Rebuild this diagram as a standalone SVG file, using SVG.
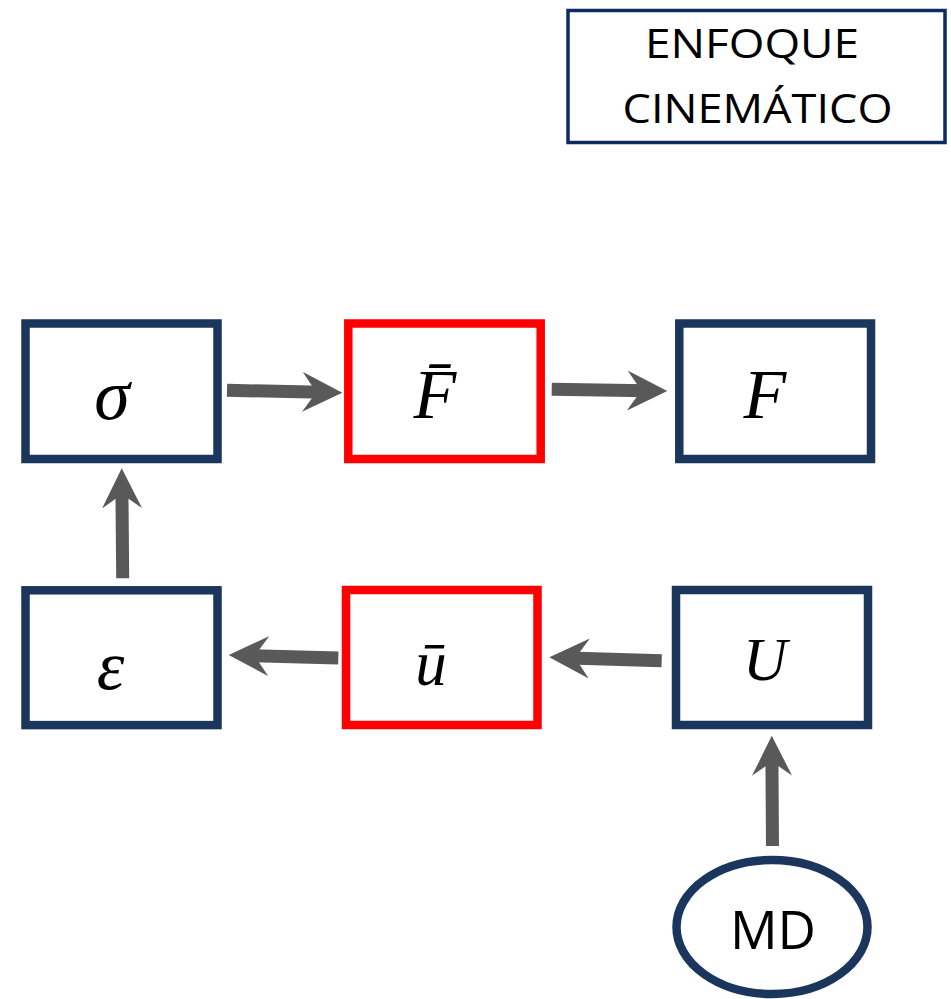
<svg xmlns="http://www.w3.org/2000/svg" width="951" height="999" viewBox="0 0 951 999">
  <style>
    .box { fill: #ffffff; stroke: #1b365d; stroke-width: 8.5; }
    .red { fill: #ffffff; stroke: #ff0000; stroke-width: 8.5; }
    .title { fill: #ffffff; stroke: #0d2a63; stroke-width: 3.5; }
    .sans { font-family: "Open Sans", "Liberation Sans", sans-serif; fill: #000000; text-anchor: middle; }
    .math { font-family: "Liberation Serif", "DejaVu Serif", serif; font-style: italic; fill: #000000; text-anchor: middle; }
    .conn { stroke: #595959; stroke-width: 13; stroke-linecap: butt; fill: none; marker-end: url(#head); }
  </style>
  <defs>
    <marker id="head" markerUnits="userSpaceOnUse" markerWidth="40" markerHeight="40" viewBox="0 0 40 40" refX="20" refY="20" orient="auto">
      <path d="M40,20 L0,0 L14,20 L0,40 Z" fill="#595959"/>
    </marker>
  </defs>
  <rect width="951" height="999" fill="#ffffff"/>

  <g id="title">
    <rect class="title" x="568" y="10.5" width="377" height="132"/>
    <text class="sans" transform="translate(752,58) scale(1.12,1)" x="0" y="0" font-size="41">ENFOQUE</text>
    <text class="sans" transform="translate(757.5,123) scale(1.1,1)" x="0" y="0" font-size="41">CINEMÁTICO</text>
  </g>

  <g id="connectors">
    <line class="conn" x1="227" y1="390.3" x2="322.3" y2="392.3"/>
    <line class="conn" x1="551.7" y1="389.2" x2="647.3" y2="390.7"/>
    <line class="conn" x1="338.3" y1="658" x2="248.7" y2="655.5"/>
    <line class="conn" x1="661.7" y1="660.7" x2="569.3" y2="657.9"/>
    <line class="conn" x1="122.7" y1="578.3" x2="121.9" y2="488.3"/>
    <line class="conn" x1="772.5" y1="846" x2="771.9" y2="755.7"/>
  </g>

  <g id="node-sigma">
    <rect class="box" x="25.5" y="323.5" width="192" height="135.5"/>
    <text class="math" x="112" y="419" font-size="72">σ</text>
  </g>
  <g id="node-Fbar">
    <rect class="red" x="348.3" y="323.5" width="192.4" height="135.5"/>
    <text class="math" x="435" y="418" font-size="70">F̄</text>
  </g>
  <g id="node-F">
    <rect class="box" x="679.3" y="323.5" width="191.7" height="135.5"/>
    <text class="math" x="765" y="418" font-size="70">F</text>
  </g>
  <g id="node-epsilon">
    <rect class="box" x="25.5" y="590.3" width="192" height="134.8"/>
    <text class="math" x="110.5" y="689" font-size="70">ε</text>
  </g>
  <g id="node-ubar">
    <rect class="red" x="346" y="590" width="191.5" height="135"/>
    <text class="math" x="431" y="685" font-size="63">ū</text>
  </g>
  <g id="node-U">
    <rect class="box" x="676" y="590" width="192" height="135"/>
    <text class="math" x="765" y="680" font-size="61">U</text>
  </g>
  <g id="node-MD">
    <ellipse class="box" cx="772" cy="927" rx="95.5" ry="67"/>
    <text class="sans" x="773" y="949" font-size="53">MD</text>
  </g>
</svg>
